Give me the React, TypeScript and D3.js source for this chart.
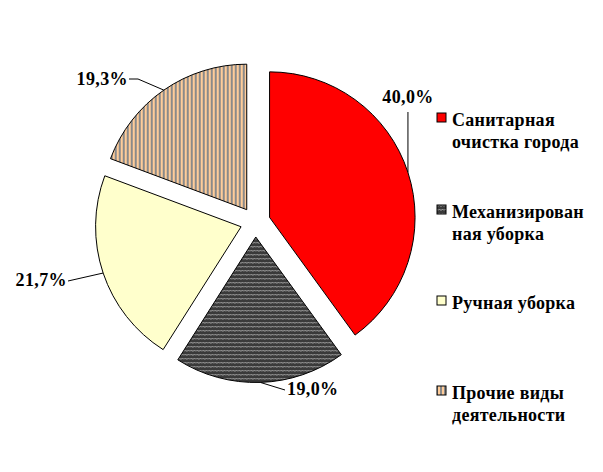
import React from "react";
import * as d3 from "d3";

const categories = [
  "Санитарная очистка города",
  "Механизированная уборка",
  "Ручная уборка",
  "Прочие виды деятельности",
];
const values = [40.0, 19.0, 21.7, 19.3];
const legendLines = [
  ["Санитарная", "очистка города"],
  ["Механизирован", "ная уборка"],
  ["Ручная уборка"],
  ["Прочие виды", "деятельности"],
];
const fills = ["#FF0000", "url(#zigzag)", "#FFFFCC", "url(#vstripes)"];

const W = 603;
const H = 472;
const cx = 255.3;
const cy = 222;
const R = 145.5;
const EXPLODE = 15;

const labelLayout = [
  { x: 408, y: 103, anchor: "middle", elbows: (p: number[]) => [[p[0], 112]] },
  { x: 287, y: 395, anchor: "start", elbows: () => [[285, 390]] },
  { x: 67, y: 286, anchor: "end", elbows: () => [[68, 281]] },
  { x: 128, y: 85, anchor: "end", elbows: () => [[138, 79], [129, 79]] },
];
const legendLayout = { x: 437, sq: 9, textX: 452, lineH: 22, tops: [113, 205, 296, 386] };

const fmt = (v: number) => v.toFixed(1).replace(".", ",") + "%";
const font = "'Liberation Serif', 'Times New Roman', serif";

export default function App() {
  const pie = d3.pie<number>().sort(null).value((d) => d);
  const arcs = pie(values);
  const arcGen = d3.arc<d3.PieArcDatum<number>>().innerRadius(0).outerRadius(R);

  return (
    <svg
      width={W}
      height={H}
      style={{ position: "absolute", left: 0, top: 0, background: "#fff" }}
    >
      <defs>
        <pattern id="zigzag" width={6} height={4} patternUnits="userSpaceOnUse">
          <rect width={6} height={4} fill="#3a3a3a" />
          <polyline
            points="0,2.5 1.5,1 3,2.5 4.5,1 6,2.5"
            fill="none"
            stroke="#c8c8c8"
            strokeWidth={0.8}
          />
        </pattern>
        <pattern id="vstripes" width={4} height={4} patternUnits="userSpaceOnUse">
          <rect width={4} height={4} fill="#FFCC99" />
          <rect width={2} height={4} fill="#8a8a8a" />
        </pattern>
      </defs>
      {arcs.map((a, i) => {
        const mid = (a.startAngle + a.endAngle) / 2;
        const ox = cx + EXPLODE * Math.sin(mid);
        const oy = cy - EXPLODE * Math.cos(mid);
        const px = ox + R * Math.sin(mid);
        const py = oy - R * Math.cos(mid);
        const L = labelLayout[i];
        const pts = [[px, py], ...L.elbows([px, py])];
        return (
          <g key={i}>
            <path
              d={arcGen(a) || ""}
              transform={`translate(${ox},${oy})`}
              fill={fills[i]}
              stroke="#000"
              strokeWidth={1}
            />
            <polyline
              points={pts.map((p) => p.join(",")).join(" ")}
              fill="none"
              stroke="#000"
              strokeWidth={1}
            />
            <text
              x={L.x}
              y={L.y}
              textAnchor={L.anchor as any}
              style={{ fontFamily: font, fontWeight: 700, fontSize: "18px", letterSpacing: "0.4px" }}
              fill="#000"
            >
              {fmt(values[i])}
            </text>
          </g>
        );
      })}
      {categories.map((c, i) => (
        <g key={c}>
          <rect
            x={legendLayout.x}
            y={legendLayout.tops[i]}
            width={legendLayout.sq}
            height={legendLayout.sq}
            fill={fills[i]}
            stroke="#000"
            strokeWidth={1}
          />
          <text
            style={{ fontFamily: font, fontWeight: 700, fontSize: "18px", letterSpacing: "0.3px" }}
            fill="#000"
          >
            {legendLines[i].map((ln, j) => (
              <tspan key={j} x={legendLayout.textX} y={legendLayout.tops[i] + 13 + j * legendLayout.lineH}>
                {ln}
              </tspan>
            ))}
          </text>
        </g>
      ))}
    </svg>
  );
}
